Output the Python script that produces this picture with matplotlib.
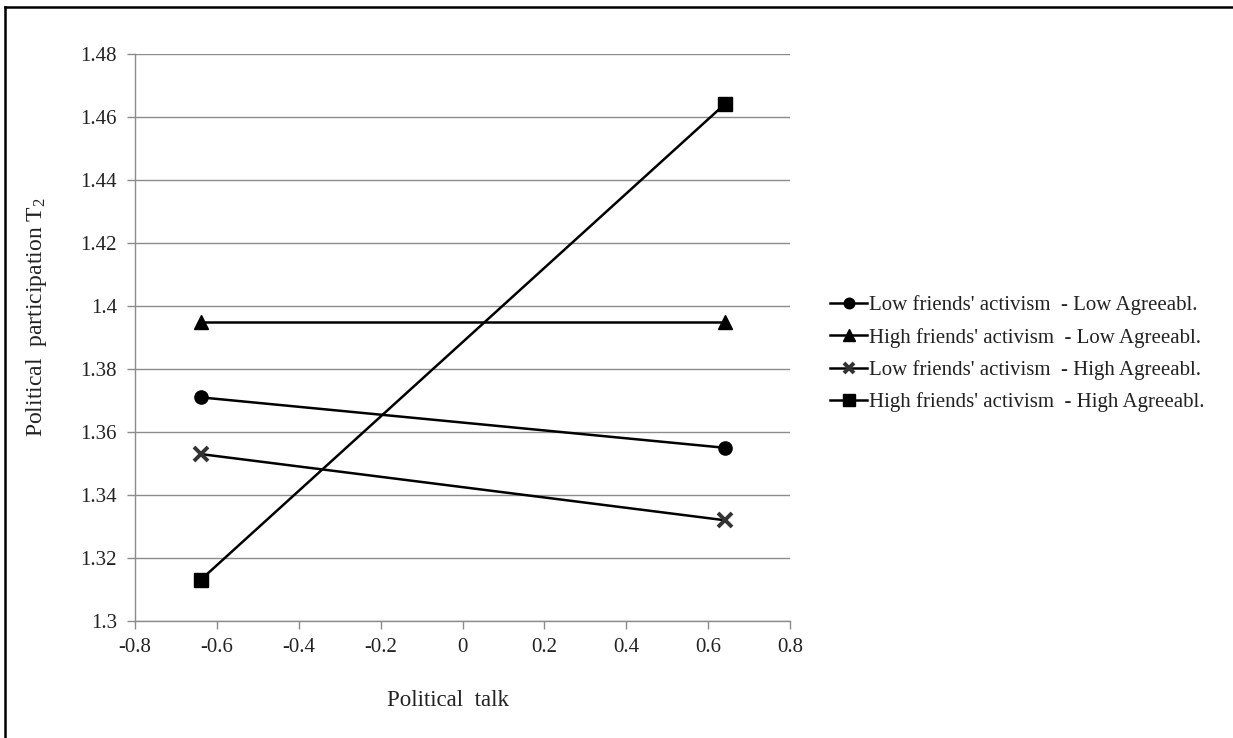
import matplotlib
matplotlib.use("Agg")
import matplotlib.pyplot as plt
from matplotlib.lines import Line2D

plt.rcParams['font.family'] = ['Liberation Serif', 'DejaVu Serif']
plt.rcParams['mathtext.fontset'] = 'custom'
plt.rcParams['mathtext.rm'] = 'Liberation Serif'
plt.rcParams['mathtext.it'] = 'Liberation Serif'

x_vals = [-0.64, 0.64]
series_names = [
    "Low friends' activism  - Low Agreeabl.",
    "High friends' activism  - Low Agreeabl.",
    "Low friends' activism  - High Agreeabl.",
    "High friends' activism  - High Agreeabl.",
]
low_low = [1.371, 1.355]
high_low = [1.395, 1.395]
low_high = [1.353, 1.332]
high_high = [1.313, 1.464]
x_ticks = [-0.8, -0.6, -0.4, -0.2, 0, 0.2, 0.4, 0.6, 0.8]
y_ticks = [1.3, 1.32, 1.34, 1.36, 1.38, 1.4, 1.42, 1.44, 1.46, 1.48]
x_tick_labels = ["-0.8", "-0.6", "-0.4", "-0.2", "0", "0.2", "0.4", "0.6", "0.8"]
y_tick_labels = ["1.3", "1.32", "1.34", "1.36", "1.38", "1.4", "1.42", "1.44", "1.46", "1.48"]

W, H = 1233, 738
fig = plt.figure(figsize=(W / 100, H / 100), dpi=100)
left, right, top, bottom = 135, 790, 54, 621
ax = fig.add_axes([left / W, 1 - bottom / H, (right - left) / W, (bottom - top) / H])

grid_c = '#8c8c8c'
ax.set_xlim(-0.8, 0.8)
ax.set_ylim(1.3, 1.48)
ax.set_xticks(x_ticks)
ax.set_xticklabels(x_tick_labels)
ax.set_yticks(y_ticks)
ax.set_yticklabels(y_tick_labels)
ax.yaxis.grid(True, color=grid_c, linewidth=1.0)
ax.set_axisbelow(True)
for s in ['top', 'right']:
    ax.spines[s].set_visible(False)
for s in ['left', 'bottom']:
    ax.spines[s].set_color(grid_c)
    ax.spines[s].set_linewidth(1.0)
ax.tick_params(axis='both', colors=grid_c, length=6, width=1.0, labelsize=15, labelcolor='#222222')
ax.tick_params(axis='y', pad=7)
ax.tick_params(axis='x', pad=6)

lw = 1.8
series = [low_low, high_low, low_high, high_high]
markers = ['o', '^', 'x', 's']
msizes = [9.5, 10, 9.5, 10]
mews = [1, 1, 2.8, 1]
for vals, name, m, ms, mew in zip(series, series_names, markers, msizes, mews):
    ax.plot(x_vals, vals, color='black', linewidth=lw, marker=m, markersize=ms,
            markeredgewidth=mew, markeredgecolor='black' if m != 'x' else '#333333',
            label=name, clip_on=False)

fig.text(448 / W, 1 - 700 / H, "Political  talk", fontsize=16.5, ha='center', va='center', color='#222222')
fig.text(37 / W, 1 - 317 / H, "Political  participation T$_2$", fontsize=17, rotation=90,
         ha='center', va='center', color='#222222')

handles, labels = ax.get_legend_handles_labels()
leg = fig.legend(handles, labels, loc='upper left', bbox_to_anchor=(822 / W, 1 - 287 / H),
                 frameon=False, fontsize=15, handlelength=1.75, handletextpad=0.1,
                 labelspacing=0.6, borderaxespad=0, markerscale=0.8)
for t in leg.get_texts():
    t.set_color('#222222')

# figure border (top and left edges)
fig.add_artist(Line2D([5 / W, 5 / W], [0, 1 - 7 / H], transform=fig.transFigure, color='black', linewidth=1.8))
fig.add_artist(Line2D([5 / W, 1], [1 - 7 / H, 1 - 7 / H], transform=fig.transFigure, color='black', linewidth=1.8))

fig.savefig("out.png", dpi=100)
